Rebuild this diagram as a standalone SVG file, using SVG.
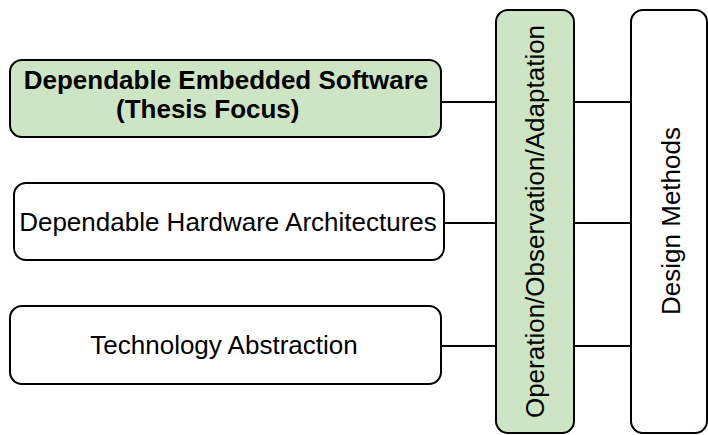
<svg xmlns="http://www.w3.org/2000/svg" width="708" height="435" viewBox="0 0 708 435">
  <style>
    .box { stroke: #000; stroke-width: 2; }
    .green { fill: #cde5c5; }
    .white { fill: #fff; }
    .lbl { font-family: "Liberation Sans", Arial, sans-serif; font-size: 26px; fill: #000; }
    .bold { font-weight: bold; }
    .wire { stroke: #000; stroke-width: 2; fill: none; }
  </style>
  <rect width="708" height="435" fill="#fff"/>

  <!-- connectors between the layer boxes and the two vertical columns -->
  <g id="connectors">
    <line class="wire" x1="441" y1="102" x2="496" y2="102"/>
    <line class="wire" x1="444" y1="223" x2="496" y2="223"/>
    <line class="wire" x1="441" y1="346" x2="496" y2="346"/>
    <line class="wire" x1="574" y1="102" x2="631" y2="102"/>
    <line class="wire" x1="574" y1="223" x2="631" y2="223"/>
    <line class="wire" x1="574" y1="346" x2="631" y2="346"/>
  </g>

  <g id="software">
    <rect class="box green" x="10" y="60" width="431" height="77" rx="12"/>
    <text class="lbl bold" x="226" y="89" text-anchor="middle">Dependable Embedded Software</text>
    <text class="lbl bold" x="116" y="118">(Thesis Focus)</text>
  </g>

  <g id="hardware">
    <rect class="box white" x="14" y="183" width="430" height="77" rx="12"/>
    <text class="lbl" x="228" y="231" text-anchor="middle">Dependable Hardware Architectures</text>
  </g>

  <g id="technology">
    <rect class="box white" x="10" y="306" width="431" height="78" rx="12"/>
    <text class="lbl" x="224" y="354" text-anchor="middle">Technology Abstraction</text>
  </g>

  <g id="operation">
    <rect class="box green" x="496" y="10" width="78" height="423" rx="12"/>
    <text class="lbl" transform="translate(544 221.5) rotate(-90)" text-anchor="middle">Operation/Observation/Adaptation</text>
  </g>

  <g id="design">
    <rect class="box white" x="631" y="10" width="76" height="423" rx="12"/>
    <text class="lbl" transform="translate(680 221) rotate(-90)" text-anchor="middle">Design Methods</text>
  </g>
</svg>
